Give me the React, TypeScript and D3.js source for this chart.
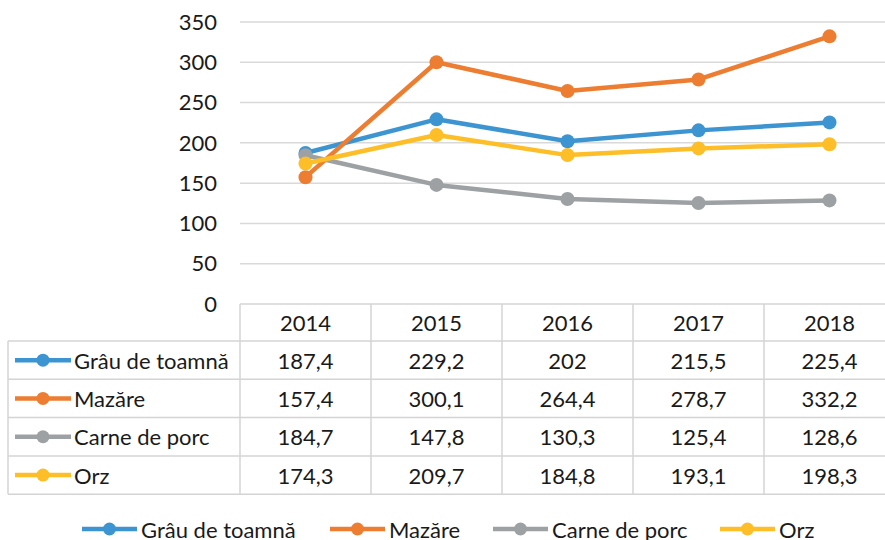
import React from "react";
import * as d3 from "d3";

const years = ["2014", "2015", "2016", "2017", "2018"];
const seriesNames = ["Grâu de toamnă", "Mazăre", "Carne de porc", "Orz"];
const grau = [187.4, 229.2, 202, 215.5, 225.4];
const mazare = [157.4, 300.1, 264.4, 278.7, 332.2];
const carne = [184.7, 147.8, 130.3, 125.4, 128.6];
const orz = [174.3, 209.7, 184.8, 193.1, 198.3];
const yTicks = [0, 50, 100, 150, 200, 250, 300, 350];
const colors = ["#3C95D1", "#ED7D31", "#9DA1A3", "#FDBE27"];
const legendX = [82, 330, 493, 720];

const W = 885, H = 540;
const FONT = "Lato, 'Open Sans', sans-serif";
const FS = 22;

export default function App() {
  const allSeries = [grau, mazare, carne, orz];
  const x = d3.scaleBand<string>().domain(years).range([240, 895]);
  const y = d3.scaleLinear().domain([0, 350]).range([304, 22]);
  const line = d3
    .line<number>()
    .x((_, i) => (x(years[i]) as number) + x.bandwidth() / 2)
    .y((d) => y(d));
  const fmt = (v: number) => String(v).replace(".", ",");
  const tableTop = 304;
  const headerBottom = 341;
  const rowH = 38.3;
  const tableLeft = 8;
  const tableRight = 895;
  const gridColor = "#D9D9D9";
  const borderColor = "#D4D4D4";

  return (
    <svg width={W} height={H} style={{ position: "absolute", left: 0, top: 0 }} fontFamily={FONT}>
      <rect width={W} height={H} fill="#fff" />
      {yTicks.map((t) => (
        <g key={t}>
          {t > 0 && (
            <line x1={240} x2={W} y1={y(t)} y2={y(t)} stroke={gridColor} strokeWidth={1.5} />
          )}
          <text x={217} y={y(t)} dy="0.35em" textAnchor="end" fontSize={FS} fill="#1a1a1a">
            {t}
          </text>
        </g>
      ))}
      {/* table */}
      <g stroke={borderColor} strokeWidth={1.5} fill="none">
        <line x1={240} x2={tableRight} y1={tableTop} y2={tableTop} />
        <line x1={tableLeft} x2={tableRight} y1={headerBottom} y2={headerBottom} />
        {seriesNames.map((_, i) => (
          <line
            key={i}
            x1={tableLeft}
            x2={tableRight}
            y1={headerBottom + rowH * (i + 1)}
            y2={headerBottom + rowH * (i + 1)}
          />
        ))}
        <line x1={tableLeft} x2={tableLeft} y1={headerBottom} y2={headerBottom + rowH * 4} />
        {years.map((yr) => (
          <line
            key={yr}
            x1={x(yr) as number}
            x2={x(yr) as number}
            y1={tableTop}
            y2={headerBottom + rowH * 4}
          />
        ))}
      </g>
      {years.map((yr) => (
        <text
          key={yr}
          x={(x(yr) as number) + x.bandwidth() / 2}
          y={(tableTop + headerBottom) / 2 + 1}
          dy="0.35em"
          textAnchor="middle"
          fontSize={FS}
          fill="#1a1a1a"
        >
          {yr}
        </text>
      ))}
      {allSeries.map((s, si) => {
        const cy = headerBottom + rowH * si + rowH / 2;
        return (
          <g key={si}>
            <line x1={15} x2={71} y1={cy} y2={cy} stroke={colors[si]} strokeWidth={4.5} />
            <circle cx={43} cy={cy} r={6.5} fill={colors[si]} />
            <text x={74} y={cy + 1} dy="0.35em" fontSize={FS} fill="#1a1a1a">
              {seriesNames[si]}
            </text>
            {s.map((v, i) => (
              <text
                key={i}
                x={(x(years[i]) as number) + x.bandwidth() / 2}
                y={cy + 1}
                dy="0.35em"
                textAnchor="middle"
                fontSize={FS}
                fill="#1a1a1a"
              >
                {fmt(v)}
              </text>
            ))}
          </g>
        );
      })}
      {/* lines */}
      {allSeries.map((s, si) => (
        <g key={si}>
          <path d={line(s) as string} fill="none" stroke={colors[si]} strokeWidth={4.5} strokeLinejoin="round" />
          {s.map((v, i) => (
            <circle
              key={i}
              cx={(x(years[i]) as number) + x.bandwidth() / 2}
              cy={y(v)}
              r={7}
              fill={colors[si]}
            />
          ))}
        </g>
      ))}
      {/* legend */}
      {seriesNames.map((n, si) => (
        <g key={n}>
          <line x1={legendX[si]} x2={legendX[si] + 55} y1={529} y2={529} stroke={colors[si]} strokeWidth={4.5} />
          <circle cx={legendX[si] + 27.5} cy={529} r={6.5} fill={colors[si]} />
          <text x={legendX[si] + 59} y={530} dy="0.35em" fontSize={FS} fill="#1a1a1a">
            {n}
          </text>
        </g>
      ))}
    </svg>
  );
}
